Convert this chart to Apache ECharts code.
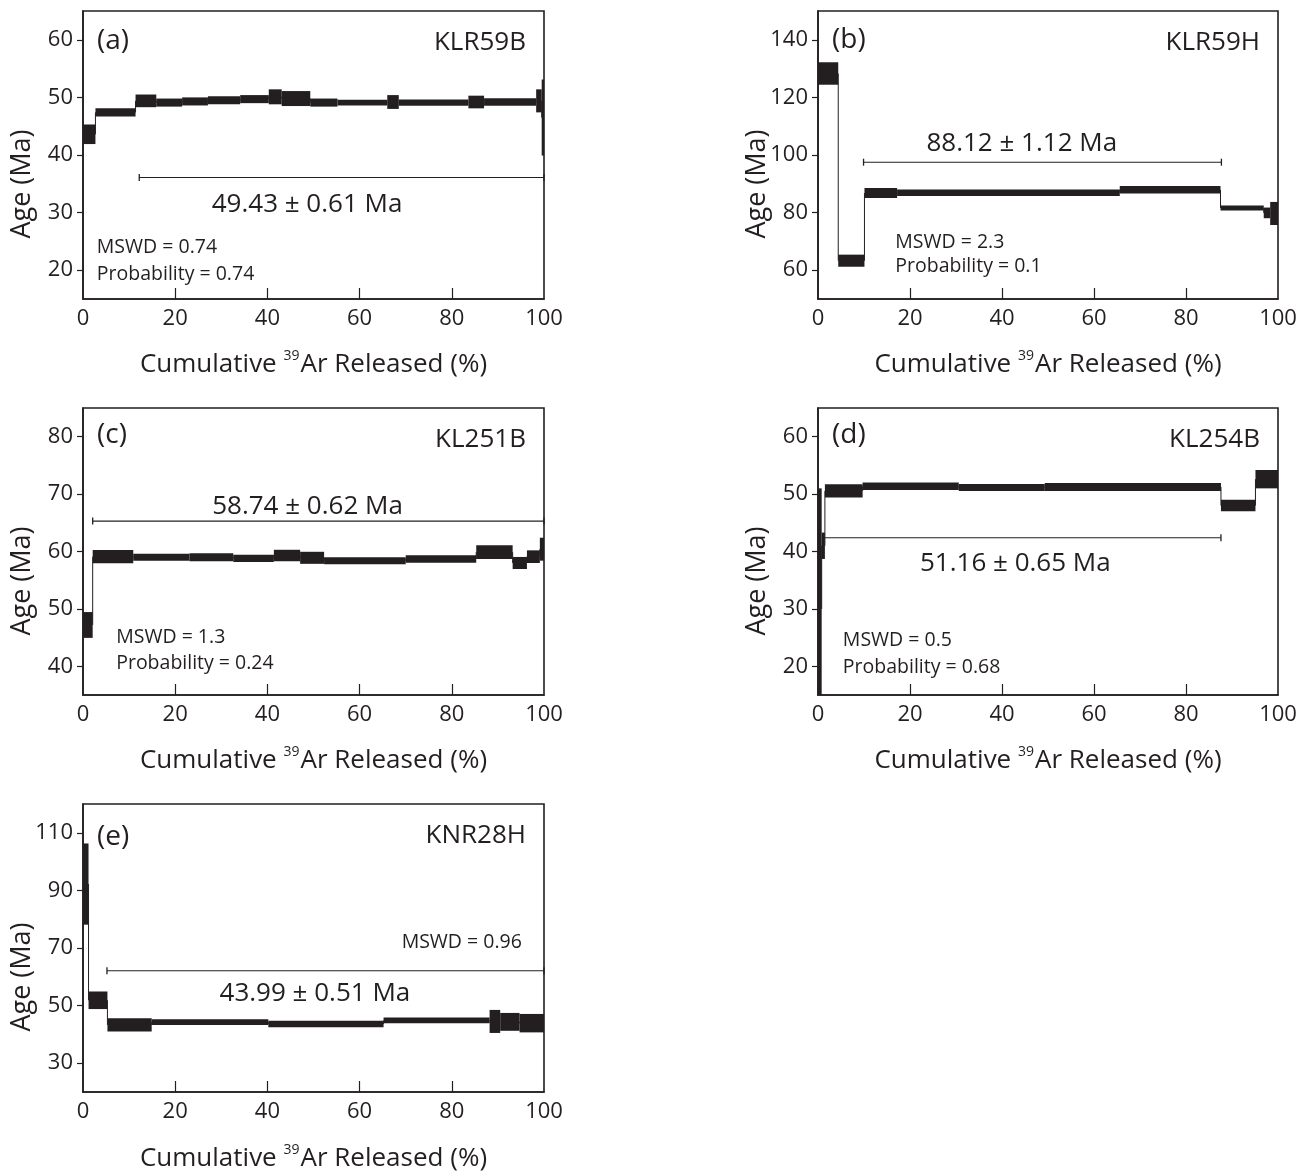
<!DOCTYPE html>
<html><head><meta charset="utf-8">
<script src="https://cdn.jsdelivr.net/npm/echarts@6/dist/echarts.min.js"></script>
<style>html,body{margin:0;padding:0;background:#fff}#c{width:1301px;height:1171px}</style>
</head><body><div id="c"></div>
<script>
// ---------------- DATA ----------------
const X_LABELS = [0, 20, 40, 60, 80, 100];
const X_TICKS = [20, 40, 60, 80];

// (a) KLR59B
const a_bounds = [0, 2.7, 11.4, 15.9, 21.5, 27.1, 34.1, 40.3, 43.1, 49.3, 55.2, 66.0, 68.5, 83.6, 87.0, 98.3, 99.5, 100];
const a_age = [43.6, 47.4, 49.4, 49.1, 49.3, 49.5, 49.7, 50.1, 49.8, 49.1, 49.1, 49.2, 49.1, 49.2, 49.2, 49.4, 46.5];
const a_err = [1.7, 0.7, 1.1, 0.7, 0.7, 0.7, 0.7, 1.3, 1.3, 0.7, 0.5, 1.2, 0.55, 1.1, 0.65, 2.0, 6.6];
const a_plateau = [12.2, 100];
const a_yticks = [20, 30, 40, 50, 60];

// (b) KLR59H
const b_bounds = [0, 4.4, 10.1, 17.2, 65.6, 87.5, 96.9, 98.3, 100];
const b_age = [128.3, 63.3, 86.8, 86.9, 87.9, 81.6, 79.9, 79.7];
const b_err = [3.9, 2.1, 1.7, 1.15, 1.3, 0.9, 1.85, 4.0];
const b_plateau = [9.9, 87.7];
const b_yticks = [60, 80, 100, 120, 140];

// (c) KL251B
const c_bounds = [0, 2.1, 10.9, 23.1, 32.6, 41.4, 47.1, 52.3, 70, 85.3, 93.2, 96.3, 99.1, 100];
const c_age = [47.2, 59.1, 59.0, 59.0, 58.8, 59.3, 58.9, 58.4, 58.7, 59.9, 58.0, 59.1, 60.4];
const c_err = [2.25, 1.15, 0.6, 0.7, 0.65, 1.0, 1.05, 0.6, 0.65, 1.2, 1.05, 1.1, 2.0];
const c_plateau = [2.1, 100];
const c_yticks = [40, 50, 60, 70, 80];

// (d) KL254B
const d_bounds = [0, 0.8, 1.5, 9.7, 30.6, 49.3, 87.6, 95.1, 100];
const d_age = [30, 41, 50.55, 51.35, 51.15, 51.25, 48.0, 52.6];
const d_err = [21, 2.3, 1.15, 0.65, 0.6, 0.7, 1.0, 1.6];
const d_plateau = [1.1, 87.6];
const d_yticks = [20, 30, 40, 50, 60];

// (e) KNR28H
const e_bounds = [0, 1.2, 5.3, 14.9, 40.2, 65.2, 88.2, 90.5, 94.7, 100];
const e_age = [92.2, 51.85, 43.3, 44.25, 43.6, 44.85, 44.5, 44.35, 43.9];
const e_err = [14.1, 3.05, 2.3, 1.0, 1.15, 1.0, 4.0, 3.1, 3.2];
const e_plateau = [5.2, 100];
const e_yticks = [30, 50, 70, 90, 110];

// texts
const letters = ['(a)', '(b)', '(c)', '(d)', '(e)'];
const samples = ['KLR59B', 'KLR59H', 'KL251B', 'KL254B', 'KNR28H'];
const plateauTexts = ['49.43 ± 0.61 Ma', '88.12 ± 1.12 Ma', '58.74 ± 0.62 Ma', '51.16 ± 0.65 Ma', '43.99 ± 0.51 Ma'];
const mswdTexts = ['MSWD = 0.74', 'MSWD = 2.3', 'MSWD = 1.3', 'MSWD = 0.5', 'MSWD = 0.96'];
const probTexts = ['Probability = 0.74', 'Probability = 0.1', 'Probability = 0.24', 'Probability = 0.68', null];
const xTitle = ['Cumulative ', '39', 'Ar Released (%)'];
const yTitle = 'Age (Ma)';

// ---------------- LAYOUT ----------------
const INK = '#231f20';
const FONT = '"Open Sans", "Noto Sans", sans-serif';
const panels = [
  {bounds: a_bounds, age: a_age, err: a_err, plateau: a_plateau, yticks: a_yticks,
   grid: {left: 83, top: 11, width: 461, height: 288}, ymin: 15, ymax: 65,
   plateauY: 36.1, labelPos: [48.6, 31.8], mswdPos: [3.0, 24.2], probPos: [3.0, 19.5], mswdAlign: 'left', letterDy: 30.5, titleDy: 66},
  {bounds: b_bounds, age: b_age, err: b_err, plateau: b_plateau, yticks: b_yticks,
   grid: {left: 818, top: 11, width: 460, height: 288}, ymin: 50, ymax: 150,
   plateauY: 97.5, labelPos: [44.3, 104.8], mswdPos: [16.8, 70.1], probPos: [16.8, 61.5], mswdAlign: 'left', letterDy: 29.5, titleDy: 66},
  {bounds: c_bounds, age: c_age, err: c_err, plateau: c_plateau, yticks: c_yticks,
   grid: {left: 83, top: 408, width: 461, height: 287}, ymin: 35, ymax: 85,
   plateauY: 65.3, labelPos: [48.7, 68.2], mswdPos: [7.2, 45.2], probPos: [7.2, 40.6], mswdAlign: 'left', letterDy: 27.5, titleDy: 66},
  {bounds: d_bounds, age: d_age, err: d_err, plateau: d_plateau, yticks: d_yticks,
   grid: {left: 818, top: 408, width: 460, height: 287}, ymin: 15, ymax: 65,
   plateauY: 42.4, labelPos: [42.9, 38.2], mswdPos: [5.4, 24.6], probPos: [5.4, 20.0], mswdAlign: 'left', letterDy: 27.5, titleDy: 66},
  {bounds: e_bounds, age: e_age, err: e_err, plateau: e_plateau, yticks: e_yticks,
   grid: {left: 83, top: 804, width: 461, height: 288}, ymin: 20, ymax: 120,
   plateauY: 62.1, labelPos: [50.3, 54.9], mswdPos: [95.2, 72.3], probPos: null, mswdAlign: 'right', letterDy: 33, titleDy: 67}
];

function clampRect(x, y, w, h, cs) {
  const x0 = Math.max(x, cs.x), y0 = Math.max(y, cs.y);
  const x1 = Math.min(x + w, cs.x + cs.width), y1 = Math.min(y + h, cs.y + cs.height);
  return {x: x0, y: y0, width: Math.max(0, x1 - x0), height: Math.max(0, y1 - y0)};
}

const grid = [], xAxis = [], yAxis = [], series = [];
panels.forEach((p, i) => {
  grid.push(Object.assign({show: true, borderColor: INK, borderWidth: 1.6, backgroundColor: 'transparent'}, p.grid));
  xAxis.push({
    type: 'value', gridIndex: i, min: 0, max: 100, interval: 20,
    axisLine: {show: true, lineStyle: {color: INK, width: 1.6}},
    axisTick: {show: true, inside: true, length: 11, customValues: X_TICKS, lineStyle: {color: INK, width: 1.2}},
    axisLabel: {customValues: X_LABELS, color: INK, fontSize: 22, fontFamily: FONT, margin: 9},
    splitLine: {show: false}
  });
  yAxis.push({
    type: 'value', gridIndex: i, min: p.ymin, max: p.ymax,
    axisLine: {show: true, lineStyle: {color: INK, width: 1.6}},
    axisTick: {show: true, inside: false, length: 6, customValues: p.yticks, lineStyle: {color: INK, width: 1.2}},
    axisLabel: {customValues: p.yticks, color: INK, fontSize: 22, fontFamily: FONT, margin: 10, padding: [4, 0, 0, 0]},
    splitLine: {show: false}
  });
  const data = p.age.map((v, k) => [p.bounds[k], p.bounds[k + 1], v, p.err[k], k > 0 ? p.age[k - 1] : v]);
  series.push({
    type: 'custom', xAxisIndex: i, yAxisIndex: i, data: data, silent: true,
    encode: {x: [0, 1], y: [2]},
    renderItem: function (params, api) {
      const cs = params.coordSys;
      const x0 = api.value(0), x1 = api.value(1), a = api.value(2), e = api.value(3), pa = api.value(4);
      const p0 = api.coord([x0, a + e]), p1 = api.coord([x1, a - e]);
      const children = [{
        type: 'rect', shape: clampRect(p0[0], p0[1], p1[0] - p0[0], p1[1] - p0[1], cs),
        style: {fill: INK}
      }];
      if (params.dataIndex > 0) {
        const c0 = api.coord([x0, pa]), c1 = api.coord([x0, a]);
        children.push({type: 'line', shape: {x1: c0[0], y1: c0[1], x2: c1[0], y2: c1[1]},
          style: {stroke: INK, lineWidth: 1}});
      }
      return {type: 'group', children: children};
    }
  });
  series.push({
    type: 'custom', xAxisIndex: i, yAxisIndex: i, silent: true,
    data: [[p.plateau[0], p.plateau[1], p.plateauY]],
    encode: {x: [0, 1], y: [2]},
    renderItem: function (params, api) {
      const s = api.coord([api.value(0), api.value(2)]), t = api.coord([api.value(1), api.value(2)]);
      return {type: 'group', children: [
        {type: 'line', shape: {x1: s[0], y1: s[1], x2: t[0], y2: t[1]}, style: {stroke: INK, lineWidth: 1.1}},
        {type: 'line', shape: {x1: s[0], y1: s[1] - 3.5, x2: s[0], y2: s[1] + 3.5}, style: {stroke: INK, lineWidth: 1.3}},
        {type: 'line', shape: {x1: t[0], y1: t[1] - 3.5, x2: t[0], y2: t[1] + 3.5}, style: {stroke: INK, lineWidth: 1.3}}
      ]};
    }
  });
});

const chart = echarts.init(document.getElementById('c'), null, {renderer: 'canvas'});
chart.setOption({animation: false, backgroundColor: '#fff', grid, xAxis, yAxis, series});

// ---------------- ANNOTATIONS ----------------
const graphics = [];
panels.forEach((p, i) => {
  const g = p.grid;
  const txt = (x, y, text, size, align, extra) => graphics.push(Object.assign({
    type: 'text', x: x, y: y, silent: true,
    style: {text: text, fill: INK, font: size + 'px ' + FONT, textAlign: align, textVerticalAlign: 'middle'}
  }, extra || {}));
  txt(g.left + 14, g.top + p.letterDy, letters[i], 28, 'left');
  txt(g.left + g.width - 18, g.top + 32, samples[i], 26, 'right');
  const lp = chart.convertToPixel({gridIndex: i}, p.labelPos);
  txt(lp[0], lp[1] + 2, plateauTexts[i], 26, 'center');
  const mp = chart.convertToPixel({gridIndex: i}, p.mswdPos);
  txt(mp[0], mp[1] + 1, mswdTexts[i], 19.5, p.mswdAlign);
  if (p.probPos && probTexts[i]) {
    const pp = chart.convertToPixel({gridIndex: i}, p.probPos);
    txt(pp[0], pp[1] + 1, probTexts[i], 19.5, p.mswdAlign);
  }
  // y axis title
  txt(g.left - 61, g.top + 173, yTitle, 27, 'center', {rotation: Math.PI / 2});
  // x axis title with superscript
  graphics.push({
    type: 'text', x: g.left + g.width / 2, y: g.top + g.height + p.titleDy, silent: true,
    style: {
      text: '{n|' + xTitle[0] + '}{s|' + xTitle[1] + '}{n|' + xTitle[2] + '}',
      textAlign: 'center', textVerticalAlign: 'middle',
      rich: {
        n: {fontSize: 26, fontFamily: FONT, fill: INK, color: INK, lineHeight: 32},
        s: {fontSize: 14, fontFamily: FONT, fill: INK, color: INK, verticalAlign: 'top', lineHeight: 32, padding: [0, 1, 13, 0]}
      }
    }
  });
});
chart.setOption({graphic: graphics});
</script>
</body></html>
